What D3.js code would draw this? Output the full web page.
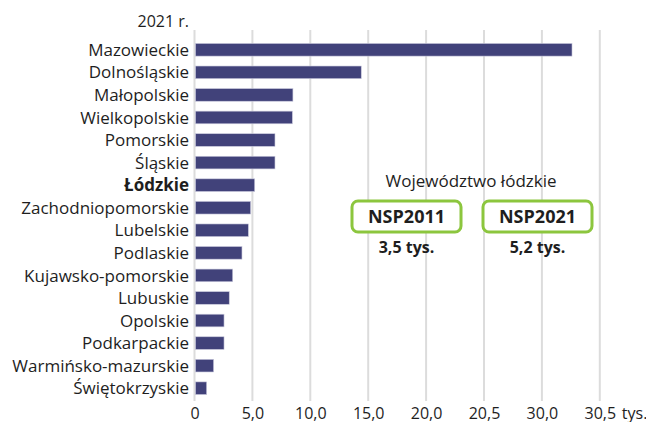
<!DOCTYPE html>
<html>
<head>
<meta charset="utf-8">
<script src="https://cdn.jsdelivr.net/npm/d3@7"></script>
<style>
  body { margin: 0; background: #fff; }
  svg { font-family: "Open Sans", "Noto Sans", sans-serif; }
</style>
</head>
<body>
<div id="chart"></div>
<script>
// Data (thousands, 2021)
const regions = ["Mazowieckie", "Dolnośląskie", "Małopolskie", "Wielkopolskie", "Pomorskie",
    "Śląskie", "Łódzkie", "Zachodniopomorskie", "Lubelskie", "Podlaskie", "Kujawsko-pomorskie",
    "Lubuskie", "Opolskie", "Podkarpackie", "Warmińsko-mazurskie", "Świętokrzyskie"];
const values = [32.6, 14.4, 8.5, 8.45, 6.95, 6.95, 5.2, 4.85, 4.65, 4.1, 3.3, 3.0, 2.55, 2.55, 1.65, 1.05];
const tickValues = [0, 5, 10, 15, 20, 25, 30, 35];
const tickLabels = ["0", "5,0", "10,0", "15,0", "20,0", "20,5", "30,0", "30,5"];
const highlight = "Łódzkie";
const boxLabels = ["NSP2011", "NSP2021"];
const boxValues = ["3,5 tys.", "5,2 tys."];

const width = 646, height = 422;
const margin = {top: 30, left: 194.5};

const svg = d3.select("#chart").append("svg")
    .attr("width", width)
    .attr("height", height);

const x = d3.scaleLinear().domain([0, 35]).range([margin.left, margin.left + 405.3]);
const y = d3.scaleBand().domain(regions).range([38.5, 399.5]).paddingInner(0.44).paddingOuter(0.22);

// Gridlines
svg.append("g")
    .selectAll("line")
    .data(tickValues)
    .join("line")
    .attr("x1", d => x(d))
    .attr("x2", d => x(d))
    .attr("y1", margin.top)
    .attr("y2", 401)
    .attr("stroke", "#dcdcdc")
    .attr("stroke-width", 2);

// Bottom axis (labels only)
const xAxis = svg.append("g")
    .attr("transform", "translate(0,403)")
    .call(d3.axisBottom(x).tickValues(tickValues).tickSize(0).tickPadding(0)
        .tickFormat((d, i) => tickLabels[i]));
xAxis.select(".domain").remove();
xAxis.selectAll("text")
    .attr("dy", "15.5")
    .attr("fill", "#1e1e1e")
    .style("font-size", "16px")
    .style("font-family", "'Open Sans', sans-serif");

svg.append("text")
    .attr("x", x(35) + 22)
    .attr("y", 418.5)
    .attr("fill", "#1e1e1e")
    .style("font-size", "16px")
    .text("tys.");

// Year label
svg.append("text")
    .attr("x", 189)
    .attr("y", 27)
    .attr("text-anchor", "end")
    .attr("fill", "#1e1e1e")
    .style("font-size", "16px")
    .text("2021 r.");

// Bars
svg.append("g")
    .selectAll("rect")
    .data(regions)
    .join("rect")
    .attr("x", x(0) + 1)
    .attr("y", d => y(d))
    .attr("width", (d, i) => x(values[i]) - x(0) - 1)
    .attr("height", y.bandwidth())
    .attr("fill", "#41427a")
    .attr("stroke", "#c9c9dc")
    .attr("stroke-width", 0.6);

// Category labels
svg.append("g")
    .selectAll("text")
    .data(regions)
    .join("text")
    .attr("x", 189)
    .attr("y", d => y(d) + y.bandwidth() / 2)
    .attr("dy", "0.36em")
    .attr("text-anchor", "end")
    .attr("fill", "#1e1e1e")
    .style("font-size", "17px")
    .style("font-weight", d => d === highlight ? "bold" : "normal")
    .text(d => d);

// Annotation
svg.append("text")
    .attr("x", 471)
    .attr("y", 187)
    .attr("text-anchor", "middle")
    .attr("fill", "#1e1e1e")
    .style("font-size", "17px")
    .text("Województwo łódzkie");

const boxes = svg.append("g")
    .selectAll("g")
    .data(boxLabels)
    .join("g")
    .attr("transform", (d, i) => `translate(${i === 0 ? 352 : 483},201)`);

boxes.append("rect")
    .attr("width", 109)
    .attr("height", 31)
    .attr("rx", 6)
    .attr("fill", "#fff")
    .attr("stroke", "#8cc63e")
    .attr("stroke-width", 3);

boxes.append("text")
    .attr("x", 54.5)
    .attr("y", 22)
    .attr("text-anchor", "middle")
    .attr("fill", "#1e1e1e")
    .style("font-size", "18px")
    .style("font-weight", "bold")
    .text(d => d);

boxes.append("text")
    .attr("x", 54.5)
    .attr("y", 52)
    .attr("text-anchor", "middle")
    .attr("fill", "#1e1e1e")
    .style("font-size", "16px")
    .style("font-weight", "bold")
    .text((d, i) => boxValues[i]);
</script>
</body>
</html>
